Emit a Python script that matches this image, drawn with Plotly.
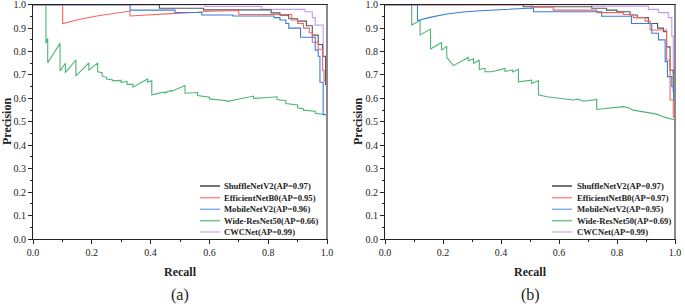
import plotly.graph_objects as go

# ---------------- data: panel (a) ----------------
a_shuffle_r = [0, 0.43, 0.43, 0.58, 0.58, 0.81, 0.81, 0.84, 0.84, 0.87, 0.87, 0.90, 0.90, 0.93, 0.93, 0.95, 0.95, 0.97, 0.97, 0.985, 0.985, 0.995, 0.995, 1.0]
a_shuffle_p = [1.0, 1.0, 0.985, 0.985, 0.978, 0.978, 0.965, 0.965, 0.955, 0.955, 0.94, 0.94, 0.93, 0.93, 0.91, 0.91, 0.87, 0.87, 0.83, 0.83, 0.78, 0.78, 0.66, 0.66]

a_eff_r = [0, 0.101, 0.101, 0.13, 0.16, 0.217, 0.273, 0.33, 0.33, 0.40, 0.483, 0.56, 0.60, 0.70, 0.70, 0.88, 0.88, 0.90, 0.90, 0.92, 0.92, 0.94, 0.94, 0.95, 0.95, 0.97, 0.97, 0.985, 0.985, 0.99, 0.99, 1.0]
a_eff_p = [1.0, 1.0, 0.92, 0.93, 0.938, 0.952, 0.963, 0.973, 0.952, 0.958, 0.963, 0.968, 0.972, 0.975, 0.958, 0.958, 0.935, 0.935, 0.92, 0.92, 0.90, 0.90, 0.88, 0.88, 0.84, 0.84, 0.81, 0.81, 0.72, 0.72, 0.675, 0.665]

a_mob_r = [0, 0.33, 0.33, 0.483, 0.483, 0.574, 0.574, 0.68, 0.68, 0.82, 0.82, 0.84, 0.84, 0.86, 0.86, 0.87, 0.87, 0.91, 0.91, 0.96, 0.96, 0.97, 0.97, 0.976, 0.976, 0.987, 0.987, 0.995, 1.0]
a_mob_p = [1.0, 1.0, 0.977, 0.977, 0.967, 0.967, 0.956, 0.956, 0.952, 0.952, 0.945, 0.945, 0.935, 0.935, 0.92, 0.92, 0.90, 0.90, 0.861, 0.861, 0.806, 0.806, 0.78, 0.78, 0.669, 0.669, 0.53, 0.53, 0.53]

a_wide_r = [0.044, 0.044, 0.05, 0.05, 0.092, 0.092, 0.11, 0.11, 0.146, 0.146, 0.19, 0.19, 0.22, 0.22, 0.235, 0.235, 0.25, 0.25, 0.27, 0.27, 0.30, 0.30, 0.32, 0.32, 0.34, 0.34, 0.39, 0.39, 0.404, 0.404, 0.45, 0.45, 0.47, 0.47, 0.517, 0.517, 0.56, 0.56, 0.60, 0.60, 0.66, 0.66, 0.75, 0.75, 0.79, 0.83, 0.83, 0.86, 0.86, 0.90, 0.90, 0.92, 0.92, 0.96, 0.96, 1.0]
a_wide_p = [1.0, 0.835, 0.857, 0.752, 0.835, 0.717, 0.75, 0.71, 0.764, 0.696, 0.752, 0.72, 0.752, 0.714, 0.71, 0.696, 0.69, 0.683, 0.68, 0.675, 0.677, 0.668, 0.673, 0.66, 0.66, 0.648, 0.683, 0.67, 0.675, 0.615, 0.628, 0.624, 0.635, 0.63, 0.655, 0.622, 0.625, 0.612, 0.605, 0.598, 0.59, 0.587, 0.61, 0.60, 0.603, 0.607, 0.595, 0.59, 0.578, 0.572, 0.56, 0.555, 0.55, 0.545, 0.537, 0.53]

a_cwc_r = [0, 0.585, 0.585, 0.778, 0.778, 0.925, 0.925, 0.95, 0.95, 0.96, 0.96, 0.987, 0.987, 1.0]
a_cwc_p = [1.0, 1.0, 0.993, 0.993, 0.98, 0.98, 0.97, 0.97, 0.945, 0.945, 0.913, 0.913, 0.778, 0.778]

# ---------------- data: panel (b) ----------------
b_shuffle_r = [0, 0.477, 0.477, 0.713, 0.713, 0.764, 0.764, 0.80, 0.80, 0.845, 0.845, 0.87, 0.87, 0.908, 0.908, 0.94, 0.94, 0.96, 0.96, 0.971, 0.971, 0.983, 0.983, 0.994, 0.994, 1.0]
b_shuffle_p = [1.0, 1.0, 0.991, 0.991, 0.985, 0.985, 0.977, 0.977, 0.97, 0.97, 0.956, 0.956, 0.945, 0.945, 0.92, 0.92, 0.90, 0.90, 0.885, 0.885, 0.82, 0.82, 0.72, 0.72, 0.63, 0.63]

b_eff_r = [0, 0.506, 0.506, 0.58, 0.58, 0.73, 0.73, 0.822, 0.822, 0.856, 0.856, 0.897, 0.897, 0.914, 0.914, 0.971, 0.971, 0.983, 0.983, 0.994, 0.994, 1.0]
b_eff_p = [1.0, 1.0, 0.989, 0.989, 0.977, 0.977, 0.966, 0.966, 0.958, 0.958, 0.945, 0.945, 0.93, 0.93, 0.892, 0.892, 0.764, 0.764, 0.593, 0.593, 0.52, 0.52]

b_mob_r = [0, 0.112, 0.112, 0.155, 0.213, 0.27, 0.328, 0.442, 0.512, 0.512, 0.747, 0.747, 0.85, 0.85, 0.92, 0.92, 0.943, 0.943, 0.966, 0.966, 0.974, 0.974, 0.989, 0.989, 0.995, 0.995, 1.0]
b_mob_p = [1.0, 1.0, 0.932, 0.946, 0.960, 0.969, 0.974, 0.982, 0.986, 0.970, 0.970, 0.951, 0.951, 0.92, 0.92, 0.878, 0.878, 0.85, 0.85, 0.757, 0.757, 0.693, 0.693, 0.65, 0.65, 0.593, 0.593]

b_wide_r = [0.092, 0.092, 0.121, 0.121, 0.157, 0.157, 0.195, 0.195, 0.213, 0.213, 0.225, 0.236, 0.287, 0.287, 0.305, 0.305, 0.325, 0.325, 0.34, 0.345, 0.345, 0.368, 0.414, 0.414, 0.44, 0.44, 0.46, 0.46, 0.506, 0.506, 0.529, 0.529, 0.558, 0.603, 0.649, 0.665, 0.684, 0.73, 0.73, 0.822, 0.84, 0.856, 0.902, 0.937, 0.966, 1.0]
b_wide_p = [1.0, 0.913, 0.932, 0.871, 0.896, 0.811, 0.839, 0.806, 0.823, 0.775, 0.757, 0.74, 0.775, 0.761, 0.769, 0.749, 0.764, 0.723, 0.728, 0.728, 0.714, 0.714, 0.728, 0.716, 0.721, 0.713, 0.724, 0.671, 0.678, 0.664, 0.676, 0.615, 0.607, 0.599, 0.593, 0.597, 0.588, 0.596, 0.553, 0.565, 0.56, 0.55, 0.539, 0.533, 0.519, 0.508]

b_cwc_r = [0, 0.713, 0.713, 0.908, 0.908, 0.943, 0.943, 0.977, 0.977, 0.989, 0.989, 0.994, 0.994, 1.0]
b_cwc_p = [1.0, 1.0, 0.994, 0.994, 0.98, 0.98, 0.966, 0.966, 0.945, 0.945, 0.865, 0.865, 0.708, 0.708]

labels_a = ["ShuffleNetV2(AP=0.97)", "EfficientNetB0(AP=0.95)", "MobileNetV2(AP=0.96)", "Wide-ResNet50(AP=0.66)", "CWCNet(AP=0.99)"]
labels_b = ["ShuffleNetV2(AP=0.97)", "EfficientNetB0(AP=0.97)", "MobileNetV2(AP=0.95)", "Wide-ResNet50(AP=0.69)", "CWCNet(AP=0.99)"]
colors = ["#555555", "#f46464", "#3a7ddc", "#4cb572", "#c29cf0"]
legend_colors = ["#444444", "#ff8a8a", "#7fb0f0", "#6cc48c", "#d5b8f5"]

xticks = [0.0, 0.2, 0.4, 0.6, 0.8, 1.0]
yticks = [0.0, 0.1, 0.2, 0.3, 0.4, 0.5, 0.6, 0.7, 0.8, 0.9, 1.0]

W, H = 685, 308
SERIF = "Liberation Serif"

fig = go.Figure()

panel_a = [(a_shuffle_r, a_shuffle_p), (a_eff_r, a_eff_p), (a_mob_r, a_mob_p), (a_wide_r, a_wide_p), (a_cwc_r, a_cwc_p)]
panel_b = [(b_shuffle_r, b_shuffle_p), (b_eff_r, b_eff_p), (b_mob_r, b_mob_p), (b_wide_r, b_wide_p), (b_cwc_r, b_cwc_p)]

draw_order = [3, 4, 0, 1, 2]
for i in draw_order:
    r, p = panel_a[i]
    fig.add_trace(go.Scatter(x=r, y=p, mode="lines", line=dict(color=colors[i], width=1.1),
                             xaxis="x", yaxis="y", showlegend=False, name=labels_a[i]))
for i in draw_order:
    r, p = panel_b[i]
    fig.add_trace(go.Scatter(x=r, y=p, mode="lines", line=dict(color=colors[i], width=1.1),
                             xaxis="x2", yaxis="y2", showlegend=False, name=labels_b[i]))

ydom = [1 - 239 / H, 1 - 4.7 / H]
xdom_a = [33 / W, 327 / W]
xdom_b = [385 / W, 675 / W]

def xaxis(dom, anchor):
    return dict(domain=dom, anchor=anchor, range=[0, 1], tickvals=xticks,
                ticktext=[f"{v:.1f}" for v in xticks], ticks="outside", ticklen=4,
                tickwidth=1, tickcolor="#222", showline=True, linecolor="#222", linewidth=1,
                mirror=True, showgrid=False, zeroline=False, ticklabeloverflow="allow",
                automargin=False,
                tickfont=dict(family=SERIF, size=10, color="#222"),
                minor=dict(dtick=0.1, tick0=0, ticks="outside", ticklen=2, tickcolor="#222"))

def yaxis(dom, anchor):
    return dict(domain=dom, anchor=anchor, range=[0, 1], tickvals=yticks,
                ticktext=[f"{v:.1f}" for v in yticks], ticks="outside", ticklen=4,
                tickwidth=1, tickcolor="#222", showline=True, linecolor="#222", linewidth=1,
                mirror=True, showgrid=False, zeroline=False, ticklabeloverflow="allow",
                automargin=False,
                tickfont=dict(family=SERIF, size=10, color="#222"),
                minor=dict(dtick=0.05, tick0=0, ticks="outside", ticklen=2, tickcolor="#222"))

fig.update_layout(
    width=W, height=H, margin=dict(l=0, r=0, t=0, b=0, autoexpand=False),
    paper_bgcolor="white", plot_bgcolor="white",
    xaxis=xaxis(xdom_a, "y"), yaxis=yaxis(ydom, "x"),
    xaxis2=xaxis(xdom_b, "y2"), yaxis2=yaxis(ydom, "x2"),
    showlegend=False,
)

annotations = []
shapes = []
# right edge grey band
for xr, yr in [("x domain", "y domain"), ("x2 domain", "y2 domain")]:
    shapes.append(dict(type="line", xref=xr, yref=yr, x0=1, x1=1, y0=0, y1=1,
                       line=dict(color="#8a8a8a", width=2)))

def px_x(v):
    return v / W

def px_y(v):
    return 1 - v / H

# axis titles and panel labels
for cx, py_lbl, lab in [(180, 295, "(a)"), (530, 295, "(b)")]:
    annotations.append(dict(x=px_x(cx), y=px_y(py_lbl), xref="paper", yref="paper", text=lab,
                            showarrow=False, font=dict(family=SERIF, size=16, color="#222"),
                            xanchor="center", yanchor="middle"))
for cx in [180, 530]:
    annotations.append(dict(x=px_x(cx), y=px_y(272), xref="paper", yref="paper", text="<b>Recall</b>",
                            showarrow=False, font=dict(family=SERIF, size=12, color="#222"),
                            xanchor="center", yanchor="middle"))
for cx in [7, 358]:
    annotations.append(dict(x=px_x(cx), y=px_y(122), xref="paper", yref="paper", text="<b>Precision</b>",
                            showarrow=False, textangle=-90, font=dict(family=SERIF, size=12, color="#222"),
                            xanchor="center", yanchor="middle"))

# custom compact legends
rows = [186, 197.7, 209.3, 220.7, 232]
for x0, x1, xt, labs in [(200, 220, 222, labels_a), (552, 572, 575, labels_b)]:
    for k, yy in enumerate(rows):
        shapes.append(dict(type="line", xref="paper", yref="paper", x0=px_x(x0), x1=px_x(x1),
                           y0=px_y(yy), y1=px_y(yy), line=dict(color=legend_colors[k], width=1.5)))
        annotations.append(dict(x=px_x(xt), y=px_y(yy), xref="paper", yref="paper",
                                text="<b>" + labs[k] + "</b>", showarrow=False,
                                font=dict(family=SERIF, size=8.6, color="#222"),
                                xanchor="left", yanchor="middle"))

fig.update_layout(annotations=annotations, shapes=shapes)
fig.write_html("out.html", config={"displayModeBar": False},
               post_script="document.body.style.margin='0px';document.documentElement.style.overflow='hidden';")
